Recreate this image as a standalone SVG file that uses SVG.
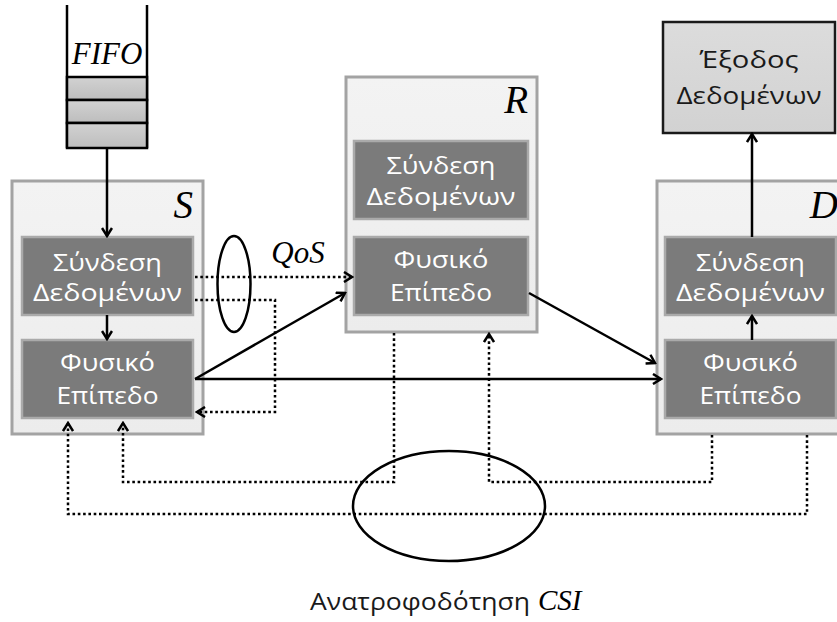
<svg xmlns="http://www.w3.org/2000/svg" width="837" height="622" viewBox="0 0 837 622">
  <defs>
    <style>
      .outer { fill: url(#gOuter); stroke: #a3a3a3; stroke-width: 3; }
      .layer { fill: #7b7b7b; stroke: #aaaaaa; stroke-width: 2.5; }
      .cell { fill: url(#gCell); stroke: #000; stroke-width: 2.5; }
      .out { fill: url(#gOut); stroke: #1a1a1a; stroke-width: 2.5; }
      .wt { font-family: "Open Sans", "Noto Sans", "DejaVu Sans", sans-serif; font-size: 24px; fill: #ffffff; }
      .dt { font-family: "Open Sans", "Noto Sans", "DejaVu Sans", sans-serif; font-size: 24px; fill: #1a1a1a; }
      .it { font-family: "Liberation Serif", "Times New Roman", serif; font-style: italic; fill: #000; }
      .solid { fill: none; stroke: #000; stroke-width: 2.5; }
      .dot { fill: none; stroke: #000; stroke-width: 2.5; stroke-dasharray: 2.6 2.7; }
      .ring { fill: none; stroke: #000; stroke-width: 2.5; }
    </style>
    <linearGradient id="gOuter" x1="0" y1="0" x2="0" y2="1">
      <stop offset="0" stop-color="#f3f3f3"/>
      <stop offset="1" stop-color="#ececec"/>
    </linearGradient>
    <linearGradient id="gCell" x1="0" y1="0" x2="0" y2="1">
      <stop offset="0" stop-color="#d2d2d2"/>
      <stop offset="1" stop-color="#bdbdbd"/>
    </linearGradient>
    <linearGradient id="gOut" x1="0" y1="0" x2="0" y2="1">
      <stop offset="0" stop-color="#dcdcdc"/>
      <stop offset="1" stop-color="#d2d2d2"/>
    </linearGradient>
    <marker id="arr" viewBox="0 0 12 12" refX="10" refY="6" markerWidth="12" markerHeight="12" markerUnits="userSpaceOnUse" orient="auto">
      <path d="M2,1 L10,6 L2,11" fill="none" stroke="#000" stroke-width="2.5"/>
    </marker>
  </defs>

  <!-- FIFO queue -->
  <g id="fifo">
    <line x1="67" y1="5" x2="67" y2="148" class="solid"/>
    <line x1="147" y1="5" x2="147" y2="148" class="solid"/>
    <rect x="67" y="77" width="80" height="23" class="cell"/>
    <rect x="67" y="100" width="80" height="23" class="cell"/>
    <rect x="67" y="123" width="80" height="25" class="cell"/>
    <text x="107" y="64" class="it" font-size="31" text-anchor="middle">FIFO</text>
  </g>

  <!-- source node S -->
  <g id="node-s">
    <rect x="12" y="181" width="191" height="253" class="outer"/>
    <text x="193" y="218" class="it" font-size="39" text-anchor="end">S</text>
    <g id="s-link">
      <rect x="22" y="237" width="171" height="78" class="layer"/>
      <text x="107.5" y="271" class="wt" text-anchor="middle" textLength="109" lengthAdjust="spacingAndGlyphs">Σύνδεση</text>
      <text x="107.5" y="301" class="wt" text-anchor="middle" textLength="149" lengthAdjust="spacingAndGlyphs">Δεδομένων</text>
    </g>
    <g id="s-phy">
      <rect x="22" y="340" width="171" height="78" class="layer"/>
      <text x="107.5" y="371" class="wt" text-anchor="middle" textLength="95" lengthAdjust="spacingAndGlyphs">Φυσικό</text>
      <text x="107.5" y="404" class="wt" text-anchor="middle" textLength="102" lengthAdjust="spacingAndGlyphs">Επίπεδο</text>
    </g>
  </g>

  <!-- relay node R -->
  <g id="node-r">
    <rect x="346" y="77" width="191" height="255" class="outer"/>
    <text x="528" y="113" class="it" font-size="39" text-anchor="end">R</text>
    <g id="r-link">
      <rect x="354" y="141" width="174" height="78" class="layer"/>
      <text x="441" y="174" class="wt" text-anchor="middle" textLength="109" lengthAdjust="spacingAndGlyphs">Σύνδεση</text>
      <text x="441" y="205" class="wt" text-anchor="middle" textLength="149" lengthAdjust="spacingAndGlyphs">Δεδομένων</text>
    </g>
    <g id="r-phy">
      <rect x="354" y="237" width="174" height="78" class="layer"/>
      <text x="441" y="268" class="wt" text-anchor="middle" textLength="95" lengthAdjust="spacingAndGlyphs">Φυσικό</text>
      <text x="441" y="301" class="wt" text-anchor="middle" textLength="102" lengthAdjust="spacingAndGlyphs">Επίπεδο</text>
    </g>
  </g>

  <!-- destination node D -->
  <g id="node-d">
    <rect x="657" y="181" width="191" height="253" class="outer"/>
    <text x="838" y="218" class="it" font-size="39" text-anchor="end">D</text>
    <g id="d-link">
      <rect x="665" y="237" width="171" height="78" class="layer"/>
      <text x="750.5" y="271" class="wt" text-anchor="middle" textLength="109" lengthAdjust="spacingAndGlyphs">Σύνδεση</text>
      <text x="750.5" y="301" class="wt" text-anchor="middle" textLength="149" lengthAdjust="spacingAndGlyphs">Δεδομένων</text>
    </g>
    <g id="d-phy">
      <rect x="665" y="340" width="171" height="78" class="layer"/>
      <text x="750.5" y="371" class="wt" text-anchor="middle" textLength="95" lengthAdjust="spacingAndGlyphs">Φυσικό</text>
      <text x="750.5" y="404" class="wt" text-anchor="middle" textLength="102" lengthAdjust="spacingAndGlyphs">Επίπεδο</text>
    </g>
  </g>

  <!-- data output -->
  <g id="data-out">
    <rect x="663" y="22" width="172" height="111" class="out"/>
    <text x="749" y="68" class="dt" text-anchor="middle" textLength="99" lengthAdjust="spacingAndGlyphs">Έξοδος</text>
    <text x="749" y="104" class="dt" text-anchor="middle" textLength="145" lengthAdjust="spacingAndGlyphs">Δεδομένων</text>
  </g>

  <!-- connectors -->
  <g id="connectors">
    <!-- data path -->
    <line x1="107" y1="148" x2="107" y2="236" class="solid" marker-end="url(#arr)"/>
    <line x1="107" y1="315" x2="107" y2="339" class="solid" marker-end="url(#arr)"/>
    <line x1="195" y1="379" x2="345" y2="293" class="solid" marker-end="url(#arr)"/>
    <line x1="195" y1="379" x2="661" y2="379" class="solid" marker-end="url(#arr)"/>
    <line x1="529" y1="293" x2="655" y2="363" class="solid" marker-end="url(#arr)"/>
    <line x1="752" y1="340" x2="752" y2="316" class="solid" marker-end="url(#arr)"/>
    <line x1="752" y1="237" x2="752" y2="134" class="solid" marker-end="url(#arr)"/>

    <!-- QoS signalling -->
    <line x1="195" y1="277" x2="352" y2="277" class="dot" marker-end="url(#arr)"/>
    <polyline points="195,300 275,300 275,412 197,412" class="dot" marker-end="url(#arr)"/>
    <ellipse cx="234" cy="284" rx="16.5" ry="48" class="ring"/>
    <text x="298" y="263" class="it" font-size="31" text-anchor="middle">QoS</text>

    <!-- CSI feedback -->
    <polyline points="394,333 394,482 123,482 123,423" class="dot" marker-end="url(#arr)"/>
    <polyline points="712,435 712,482 489,482 489,334" class="dot" marker-end="url(#arr)"/>
    <polyline points="807,435 807,514 68,514 68,423" class="dot" marker-end="url(#arr)"/>
    <ellipse cx="449" cy="506" rx="96" ry="55" class="ring"/>
    <text x="310" y="610" class="dt" font-size="27" textLength="220" lengthAdjust="spacingAndGlyphs">Ανατροφοδότηση</text>
    <text x="538" y="610" class="it" font-size="29">CSI</text>
  </g>
</svg>
